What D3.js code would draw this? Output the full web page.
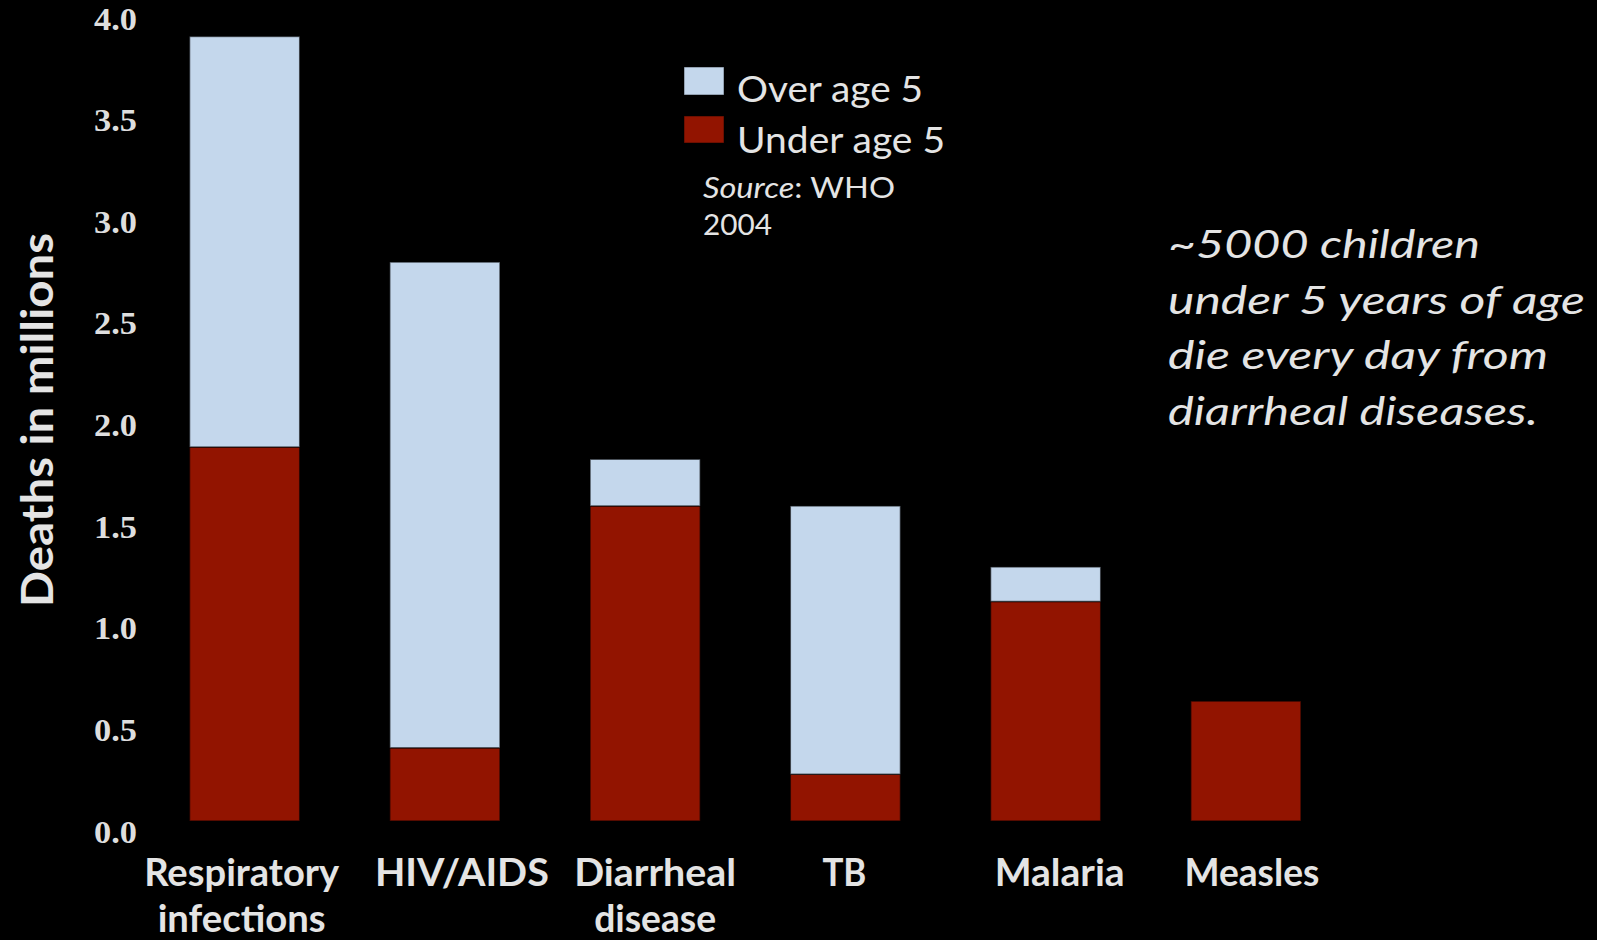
<!DOCTYPE html>
<html>
<head>
<meta charset="utf-8">
<script src="https://cdn.jsdelivr.net/npm/d3@7"></script>
<style>
  html, body { margin: 0; padding: 0; background: #000; }
  svg { display: block; }
</style>
</head>
<body>
<svg id="chart" width="1597" height="940"></svg>
<script>
// Deaths by cause (millions), split into under and over age 5
const categories = ["Respiratory infections", "HIV/AIDS", "Diarrheal disease", "TB", "Malaria", "Measles"];
const under5 = [1.84, 0.36, 1.55, 0.23, 1.08, 0.59];
const over5  = [2.02, 2.39, 0.23, 1.32, 0.17, 0.00];
const seriesKeys = ["under", "over"];
const seriesLabels = ["Under age 5", "Over age 5"];
const yTicks = [0, 0.5, 1, 1.5, 2, 2.5, 3, 3.5, 4];
const noteLines = ["~5000 children", "under 5 years of age", "die every day from", "diarrheal diseases."];

// layout
const W = 1597, H = 940;
const colors = { under: "#921400", over: "#c4d7ec" };
const textColor = "#e4e4e4";
const labelShift = [-3, 17, 10, -1, 14, 6];   // small horizontal nudges for category labels
const humanist = "Lato, 'Open Sans', 'Noto Sans', sans-serif";

const svg = d3.select("#chart");
svg.append("rect").attr("width", W).attr("height", H).attr("fill", "#000");

const rows = categories.map((c, i) => ({ cat: c, under: under5[i], over: over5[i] }));

const x = d3.scaleBand().domain(categories).range([144.5, 1346])
  .paddingInner(0.45).paddingOuter(0.225);
const y = d3.scaleLinear().domain([0, 4]).range([821, 8]);

const stacked = d3.stack().keys(seriesKeys)(rows);

// stacked bars
svg.append("g").selectAll("g").data(stacked).join("g")
  .attr("fill", d => colors[d.key])
  .selectAll("rect").data(d => d.filter(s => s[1] - s[0] > 0)).join("rect")
    .attr("x", d => x(d.data.cat))
    .attr("width", x.bandwidth())
    .attr("y", d => y(d[1]))
    .attr("height", d => y(d[0]) - y(d[1]))
    .attr("stroke", "#000")
    .attr("stroke-opacity", 0.55)
    .attr("stroke-width", 1.5);

// y axis (labels only)
const yAxis = svg.append("g").attr("transform", "translate(140,0)")
  .call(d3.axisLeft(y).tickValues(yTicks).tickFormat(d3.format(".1f")).tickSize(0).tickPadding(3));
yAxis.select(".domain").remove();
yAxis.selectAll("text")
  .attr("dy", null).attr("y", 21)
  .attr("fill", "#dedede")
  .attr("textLength", 43).attr("lengthAdjust", "spacingAndGlyphs")
  .style("font-family", "'Liberation Serif', 'Times New Roman', serif")
  .style("font-weight", "bold")
  .style("font-size", "32px");

// y axis title
svg.append("text")
  .attr("transform", "translate(53,607) rotate(-90)")
  .attr("fill", textColor)
  .attr("textLength", 374).attr("lengthAdjust", "spacingAndGlyphs")
  .style("font-family", humanist).style("font-weight", "bold").style("font-size", "44px")
  .text("Deaths in millions");

// category labels
const catWidths = [[195, 168], [174], [162, 122], [44], [130], [135]];
const catG = svg.append("g");
categories.forEach((c, i) => {
  const words = c.split(" ");
  const cx = x(c) + x.bandwidth() / 2 + labelShift[i];
  words.forEach((w, j) => {
    catG.append("text")
      .attr("x", cx).attr("y", 886 + j * 46)
      .attr("text-anchor", "middle")
      .attr("fill", textColor)
      .attr("textLength", catWidths[i][j]).attr("lengthAdjust", "spacingAndGlyphs")
      .style("font-family", humanist).style("font-weight", "bold").style("font-size", "38px")
      .text(w);
  });
});

// legend
const legend = svg.append("g");
const legendItems = [
  { key: "over", label: seriesLabels[1], y: 67, h: 28, base: 102, w: 186 },
  { key: "under", label: seriesLabels[0], y: 116, h: 27, base: 153, w: 208 }
];
legendItems.forEach(it => {
  legend.append("rect")
    .attr("x", 684).attr("y", it.y).attr("width", 40).attr("height", it.h)
    .attr("fill", colors[it.key])
    .attr("stroke", "#000").attr("stroke-opacity", 0.5);
  legend.append("text")
    .attr("x", 737).attr("y", it.base)
    .attr("fill", textColor)
    .attr("textLength", it.w).attr("lengthAdjust", "spacingAndGlyphs")
    .style("font-family", humanist).style("font-size", "37px")
    .text(it.label);
});

// source note
const src = legend.append("text").attr("x", 703).attr("y", 198)
  .attr("fill", textColor)
  .attr("textLength", 192).attr("lengthAdjust", "spacingAndGlyphs")
  .style("font-family", humanist).style("font-size", "29px");
src.append("tspan").style("font-style", "italic").text("Source");
src.append("tspan").text(": WHO");
legend.append("text").attr("x", 703).attr("y", 235)
  .attr("fill", textColor)
  .attr("textLength", 69).attr("lengthAdjust", "spacingAndGlyphs")
  .style("font-family", humanist).style("font-size", "29px")
  .text("2004");

// annotation
const noteWidths = [312, 417, 380, 370];
const noteBase = [258, 314, 369, 425];
svg.append("g").selectAll("text").data(noteLines).join("text")
  .attr("x", 1168)
  .attr("y", (d, i) => noteBase[i])
  .attr("fill", textColor)
  .attr("textLength", (d, i) => noteWidths[i]).attr("lengthAdjust", "spacingAndGlyphs")
  .style("font-family", humanist).style("font-style", "italic").style("font-size", "38px")
  .text(d => d);
</script>
</body>
</html>
